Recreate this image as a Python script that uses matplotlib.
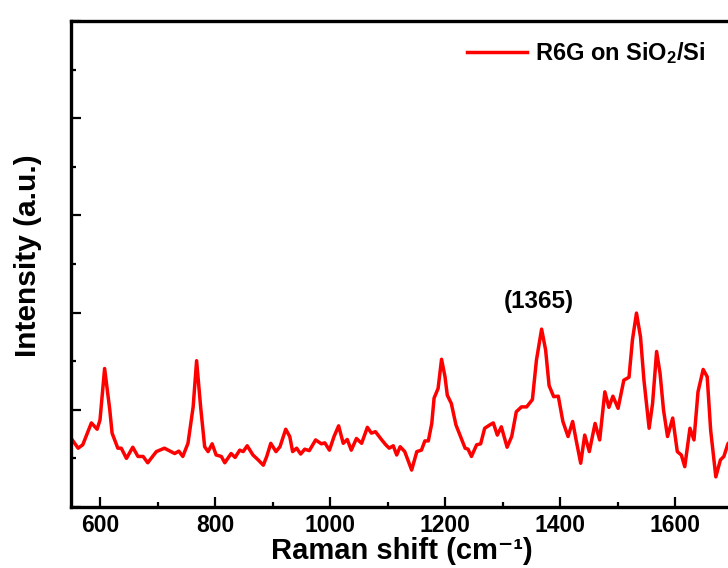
import matplotlib
matplotlib.use("Agg")
import matplotlib.pyplot as plt
from matplotlib.ticker import MultipleLocator, NullFormatter

plt.rcParams['font.family'] = ['Liberation Sans', 'DejaVu Sans']
plt.rcParams['font.weight'] = 'bold'
plt.rcParams['mathtext.fontset'] = 'custom'
plt.rcParams['mathtext.rm'] = 'Liberation Sans:bold'
plt.rcParams['mathtext.bf'] = 'Liberation Sans:bold'
plt.rcParams['mathtext.it'] = 'Liberation Sans:bold'

raman_shift = [550, 562, 570, 585, 595, 600, 608, 617, 621, 631, 637, 646, 657, 666, 675, 683,
               698, 712, 730, 737, 744, 753, 762, 768, 775, 782, 788, 795, 802, 811, 817, 828,
               835, 843, 849, 856, 866, 875, 884, 890, 897, 906, 913, 923, 930, 935, 942, 949,
               956, 964, 975, 985, 991, 999, 1007, 1015, 1023, 1030, 1037, 1046, 1055, 1065,
               1072, 1079, 1090, 1097, 1103, 1110, 1116, 1122, 1130, 1142, 1151, 1159, 1165,
               1171, 1177, 1181, 1188, 1194, 1200, 1204, 1211, 1219, 1226, 1235, 1240, 1246,
               1255, 1262, 1269, 1278, 1284, 1291, 1298, 1308, 1316, 1324, 1333, 1342, 1352,
               1359, 1368, 1375, 1381, 1389, 1397, 1405, 1414, 1422, 1428, 1436, 1443, 1451,
               1461, 1469, 1478, 1485, 1492, 1501, 1511, 1520, 1526, 1533, 1540, 1546, 1555,
               1561, 1568, 1574, 1580, 1587, 1596, 1604, 1611, 1617, 1626, 1633, 1640, 1649,
               1656, 1662, 1671, 1679, 1685, 1692, 1700]
intensity = [1.41, 1.21, 1.28, 1.73, 1.60, 1.79, 2.85, 2.00, 1.52, 1.21, 1.21, 1.00, 1.23, 1.04,
             1.04, 0.91, 1.14, 1.21, 1.10, 1.15, 1.04, 1.31, 2.06, 3.01, 2.06, 1.24, 1.14, 1.30,
             1.07, 1.04, 0.91, 1.10, 1.02, 1.17, 1.14, 1.26, 1.07, 0.97, 0.86, 1.04, 1.31, 1.14,
             1.24, 1.60, 1.45, 1.14, 1.21, 1.09, 1.19, 1.16, 1.38, 1.30, 1.32, 1.17, 1.45, 1.67,
             1.31, 1.39, 1.17, 1.41, 1.31, 1.64, 1.52, 1.55, 1.38, 1.28, 1.21, 1.26, 1.07, 1.24,
             1.14, 0.76, 1.14, 1.17, 1.36, 1.36, 1.72, 2.24, 2.44, 3.04, 2.68, 2.30, 2.13, 1.69,
             1.48, 1.21, 1.19, 1.04, 1.28, 1.30, 1.62, 1.69, 1.73, 1.48, 1.65, 1.23, 1.45, 1.96,
             2.06, 2.06, 2.21, 3.02, 3.66, 3.23, 2.50, 2.27, 2.28, 1.76, 1.45, 1.76, 1.38, 0.90,
             1.48, 1.14, 1.72, 1.38, 2.37, 2.05, 2.28, 2.03, 2.61, 2.67, 3.44, 3.99, 3.50, 2.61,
             1.62, 2.13, 3.20, 2.75, 2.00, 1.45, 1.83, 1.14, 1.07, 0.83, 1.62, 1.38, 2.37, 2.83,
             2.68, 1.58, 0.62, 0.97, 1.04, 1.30, 1.40]

series_label = r'R6G on SiO$_\mathbf{2}$/Si'
peak_label = '(1365)'
peak_pos = (1363, 4.22)
x_ticks = [600, 800, 1000, 1200, 1400, 1600]

fig = plt.figure(figsize=(7.28, 5.68), dpi=100)
ax = fig.add_axes([71.25 / 728, 61 / 568, 661.25 / 728, 486 / 568])

ax.plot(raman_shift, intensity, color='#ff0000', lw=2.5, label=series_label,
        solid_joinstyle='round')

ax.set_xlim(550, 1700)
ax.set_ylim(0, 10)
ax.set_xticks(x_ticks)
ax.xaxis.set_minor_locator(MultipleLocator(100))
ax.yaxis.set_major_locator(MultipleLocator(2))
ax.yaxis.set_minor_locator(MultipleLocator(1))
ax.yaxis.set_major_formatter(NullFormatter())

for s in ax.spines.values():
    s.set_linewidth(2.4)
ax.tick_params(which='major', direction='in', length=7, width=1.6, labelsize=16.5, pad=5)
ax.tick_params(which='minor', direction='in', length=3.5, width=1.6)
ax.tick_params(axis='x', which='both', top=False)
ax.tick_params(axis='y', which='both', right=False)
for lab in ax.get_xticklabels():
    lab.set_fontweight('bold')

ax.set_xlabel('Raman shift (cm\u207b\u00b9)', fontsize=21, fontweight='bold', labelpad=0)
ax.set_ylabel('Intensity (a.u.)', fontsize=21.5, fontweight='bold')
ax.yaxis.set_label_coords(-0.044, 0.518)

ax.text(peak_pos[0], peak_pos[1], peak_label, ha='center', va='center', fontsize=17.5,
        fontweight='bold')

leg = ax.legend(loc='center left', bbox_to_anchor=(0.598, 0.934), frameon=False,
                fontsize=17, handlelength=2.55, handletextpad=0.35, borderpad=0,
                borderaxespad=0)
for t in leg.get_texts():
    t.set_fontweight('bold')

fig.savefig('out.png', dpi=100, facecolor='white')
